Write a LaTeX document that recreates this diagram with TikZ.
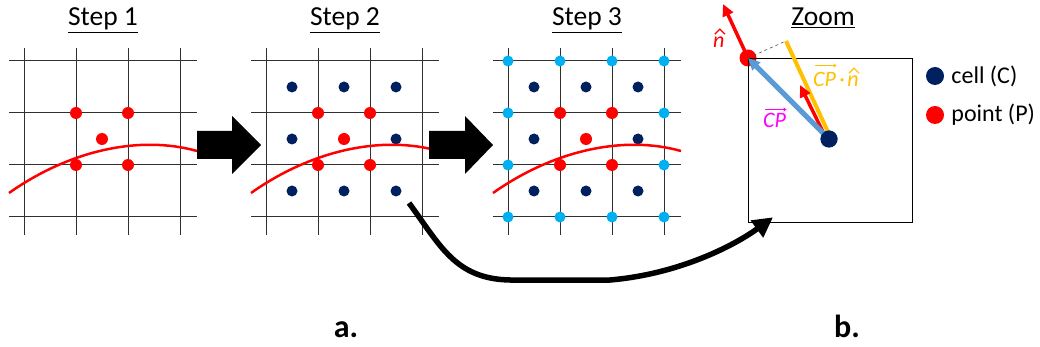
\documentclass[tikz,border=0pt]{standalone}
\usepackage{fontspec}
\setmainfont{Carlito}
\usetikzlibrary{arrows.meta, positioning, calc}

\definecolor{celldark}{HTML}{002060}
\definecolor{ghostcyan}{HTML}{00B0F0}
\definecolor{cpblue}{HTML}{5B9BD5}
\definecolor{projgold}{HTML}{FFC000}
\definecolor{cpmagenta}{HTML}{FF00FF}
\definecolor{gridgray}{HTML}{303030}

\tikzset{
  gridline/.style={draw=gridgray, line width=1pt},
  celldot/.style={circle, fill=celldark, inner sep=0pt, minimum size=11pt},
  pointdot/.style={circle, fill=red, inner sep=0pt, minimum size=12pt},
  ghostdot/.style={circle, fill=ghostcyan, inner sep=0pt, minimum size=11pt},
  surface/.style={draw=red, line width=2.5pt},
  steptitle/.style={anchor=base, inner sep=0pt, font=\fontsize{27.5}{32}\selectfont},
  blockarrow/.style={fill=black},
  legenddot/.style={circle, inner sep=0pt, minimum size=18pt},
  legendtext/.style={inner sep=0pt, font=\fontsize{24}{28}\selectfont},
  vecarrow/.style={line width=#1, -{Triangle[length=12pt, width=11pt]}},
  vecfont/.style={inner sep=0pt, anchor=base west, font=\fontsize{22}{26}\selectfont\itshape},
  overarrow/.style={line width=0.8pt, -{To[length=3pt, width=4pt]}},
  hatmark/.style={line width=1.1pt},
  panellabel/.style={anchor=base, inner sep=0pt, font=\fontsize{32}{36}\selectfont\bfseries}
}

\begin{document}
\begin{tikzpicture}[x=1pt, y=-1pt]
  \useasboundingbox (0,0) rectangle (1040,347);

  % Three steps on the grid
  \foreach \s/\gx in {1/24, 2/266, 3/508} {
    \begin{scope}[shift={(\gx,0)}]
      % grid lines
      \foreach \gy in {61,113,165,217}
        \draw[gridline] (-15,\gy) -- (173,\gy);
      \foreach \vx in {0,52,104,156}
        \draw[gridline] (\vx,48) -- (\vx,235);
      % cell centres (steps 2 and 3)
      \ifnum\s>1
        \foreach \i/\cx in {1/26, 2/78, 3/130}
          \foreach \j/\cy in {1/87, 2/139, 3/191}
            \node[celldot] (s\s cell\i\j) at (\cx,\cy) {};
      \fi
      % interface curve
      \draw[surface] (-15,193) .. controls (46,150) and (116,135) .. (173,151);
      % points around the interface
      \node[pointdot] (s\s pt1) at (52,113) {};
      \node[pointdot] (s\s pt2) at (104,113) {};
      \node[pointdot] (s\s pt3) at (52,165) {};
      \node[pointdot] (s\s pt4) at (104,165) {};
      \node[pointdot] (s\s pt0) at (78,139) {};
      % outer points (step 3)
      \ifnum\s>2
        \foreach \ox/\oy in {0/61, 52/61, 104/61, 156/61, 0/113, 156/113, 0/165, 156/165, 0/217, 52/217, 104/217, 156/217}
          \node[ghostdot] at (\ox,\oy) {};
      \fi
      \node[steptitle] (title\s) at (79,26) {\underline{Step \s}};
    \end{scope}
  }

  % Block arrows between steps
  \fill[blockarrow] (197,131) -- (232,131) -- (232,116) -- (261,145) -- (232,174) -- (232,159) -- (197,159) -- cycle;
  \fill[blockarrow] (429,131) -- (465,131) -- (465,116) -- (493,145) -- (465,174) -- (465,159) -- (429,159) -- cycle;

  % Zoom panel
  \node[steptitle] (zoomtitle) at (823,26) {\underline{Zoom}};
  \node[circle, fill=red, inner sep=0pt, minimum size=17pt] (pointP) at (748,58) {};
  \node[draw, line width=1.3pt, minimum size=164pt, inner sep=0pt, anchor=north west] (zoombox) at (748,58) {};
  \coordinate (projend) at (786,41);
  \coordinate (nhattip) at (723,4);
  \draw[black!70, dashed, line width=0.6pt] (pointP.center) -- (projend);
  \draw[draw=projgold, line width=4pt] (projend) -- (828,132);
  \draw[vecarrow=3.5pt, red] (824,134) -- (800,85);
  \draw[vecarrow=3.5pt, red] (pointP.center) -- (nhattip);
  \node[circle, fill=celldark, inner sep=0pt, minimum size=17pt] (cellC) at (829,139) {};
  \draw[vecarrow=5pt, cpblue, shorten <=4pt] (cellC.center) -- (pointP.center);
  \node[circle, fill=celldark, inner sep=0pt, minimum size=17pt] at (cellC) {};

  % Vector labels
  \node[vecfont, red] (nlabel) at (713,48) {n};
  \draw[hatmark, red] ($(nlabel.north)+(-4,-3)$) -- ($(nlabel.north)+(1,-8)$) -- ($(nlabel.north)+(6,-3)$);
  \node[vecfont, cpmagenta] (cplabel) at (763,128) {CP};
  \draw[overarrow, cpmagenta] ($(cplabel.north west)+(2,-4)$) -- ($(cplabel.north east)+(0,-4)$);
  \node[vecfont, projgold] (dotcp) at (813,87) {CP};
  \node[vecfont, projgold] (dotsym) at ($(dotcp.base east)+(3,0)$) {\upshape ·};
  \node[vecfont, projgold] (dotn) at ($(dotsym.base east)+(2,0)$) {n};
  \draw[overarrow, projgold] ($(dotcp.north west)+(2,-7)$) -- ($(dotcp.north east)+(0,-7)$);
  \draw[hatmark, projgold] ($(dotn.north)+(-4,-3)$) -- ($(dotn.north)+(1,-8)$) -- ($(dotn.north)+(6,-3)$);

  % Legend
  \node[legenddot, fill=celldark] (legcell) at (935,76) {};
  \node[legendtext, right=7pt of legcell] (legcelltext) {cell (C)};
  \node[legenddot, fill=red] (legpoint) at (935,115) {};
  \node[legendtext, right=7pt of legpoint] (legpointtext) {point (P)};

  % Link from a step 2 cell to the zoom panel
  \draw[line width=5.5pt, -{Triangle[length=20pt, width=20pt]}]
    ($(s2cell33.center)+(13,12)$) .. controls (440,245) and (455,279) .. (510,280)
    -- (610,280) .. controls (680,274) and (735,245) .. ($(zoombox.south west)+(25,-6)$);

  % Panel labels
  \node[panellabel] (labela) at (346,337) {a.};
  \node[panellabel] (labelb) at (847,337) {b.};
\end{tikzpicture}
\end{document}
